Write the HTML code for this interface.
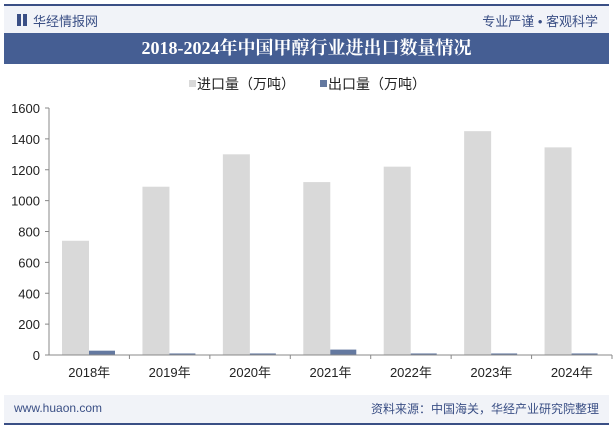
<!DOCTYPE html>
<html><head><meta charset="utf-8"><style>
body{margin:0;width:613px;height:427px;background:#fff;font-family:"Liberation Sans","Noto Sans CJK SC",sans-serif;position:relative;overflow:hidden}
.abs{position:absolute}
</style></head><body>
<div class="abs" style="left:4px;top:4px;width:605px;height:2px;background:#3a4f85"></div>
<div class="abs" style="left:4px;top:6px;width:605px;height:27px;background:#f1f3f8"></div>
<div class="abs" style="left:17px;top:14px;width:4px;height:12px;background:#3a4f85"></div>
<div class="abs" style="left:23px;top:14px;width:4px;height:12px;background:#3a4f85"></div>
<div class="abs" style="left:33px;top:11px;font-size:13px;color:#3a4f85">华经情报网</div>
<div class="abs" style="right:15px;top:11px;font-size:13px;color:#3a4f85">专业严谨 • 客观科学</div>
<div class="abs" style="left:4px;top:33px;width:605px;height:31px;background:#455e93;color:#fff;font-family:'Liberation Serif','Noto Serif CJK SC',serif;font-weight:bold;font-size:18px;line-height:31px;text-align:center">2018-2024年中国甲醇行业进出口数量情况</div>
<div class="abs" style="left:4px;top:395px;width:605px;height:28px;background:#f1f3f8"></div>
<div class="abs" style="left:14px;top:401px;font-size:12px;color:#3a4f85">www.huaon.com</div>
<div class="abs" style="right:14px;top:400px;font-size:12px;color:#3a4f85">资料来源：中国海关，华经产业研究院整理</div>
<div class="abs" style="left:4px;top:423px;width:605px;height:2px;background:#3a4f85"></div>
<svg class="abs" style="left:0;top:0" width="613" height="427" id="chart"></svg>
<script>
const categories=["2018年","2019年","2020年","2021年","2022年","2023年","2024年"];
const imports=[740,1090,1300,1120,1220,1450,1345];
const exports=[28,10,10,35,10,10,10];
const ticks=[0,200,400,600,800,1000,1200,1400,1600];
const svg=document.getElementById('chart');
const NS='http://www.w3.org/2000/svg';
const x0=49,x1=612,yb=355,yt=108,maxV=1600;
const cw=(x1-x0)/categories.length;
const y=v=>yb-(v/maxV)*(yb-yt);
function mk(t,a){const e=document.createElementNS(NS,t);for(const k in a)e.setAttribute(k,a[k]);svg.appendChild(e);return e;}
let ax=mk('line',{x1:x0,y1:yt,x2:x0,y2:yb,stroke:'#888'});


ticks.forEach(t=>{
  const tl=mk('line',{x1:x0-4,x2:x0,y1:y(t),y2:y(t),stroke:'#888'});
  
  
  const tx=mk('text',{x:x0-9,y:y(t)+5,'text-anchor':'end','font-size':13,fill:'#222'});
  tx.textContent=t;
  
  
});
categories.forEach((c,i)=>{
  const cx=x0+i*cw;
  const b1=mk('rect',{x:cx+13,y:y(imports[i]),width:27,height:yb-y(imports[i]),fill:'#d9d9d9'});
  
  
  const b2=mk('rect',{x:cx+40,y:y(exports[i]),width:26,height:yb-y(exports[i]),fill:'#6479a0'});
  
  
  const tl=mk('line',{x1:cx+cw,x2:cx+cw,y1:yb,y2:yb+4,stroke:'#888'});
  
  
  const tx=mk('text',{x:cx+cw/2,y:yb+22,'text-anchor':'middle','font-size':13,fill:'#222'});
  tx.textContent=c;
  
  
});
let xa=mk('line',{x1:x0,y1:yb,x2:x1,y2:yb,stroke:'#888'});


[['进口量（万吨）','#d9d9d9',189],['出口量（万吨）','#6479a0',320]].forEach(([n,c,lx])=>{
  const r=mk('rect',{x:lx,y:80,width:7,height:7,fill:c});
  
  
  const t=mk('text',{x:lx+8,y:89,'font-size':14,fill:'#222'});
  t.textContent=n;
  
  
});
</script>
</body></html>
